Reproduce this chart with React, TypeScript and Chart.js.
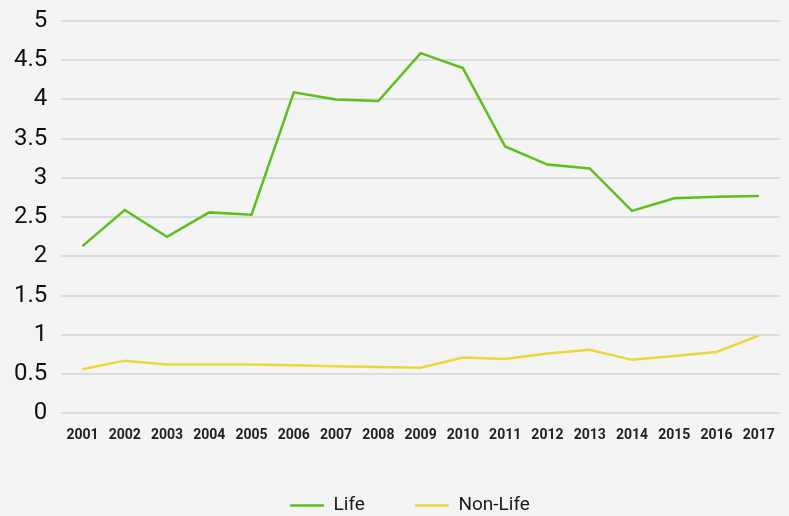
import React, { useEffect, useRef } from "react";
import { Chart, registerables } from "chart.js";

Chart.register(...registerables);

const years = ["2001","2002","2003","2004","2005","2006","2007","2008","2009","2010","2011","2012","2013","2014","2015","2016","2017"];
const lifeValues = [2.13, 2.59, 2.25, 2.56, 2.53, 4.09, 4.0, 3.98, 4.59, 4.4, 3.4, 3.17, 3.12, 2.58, 2.74, 2.76, 2.77];
const nonLifeValues = [0.56, 0.67, 0.62, 0.62, 0.62, 0.61, 0.6, 0.59, 0.58, 0.71, 0.69, 0.76, 0.81, 0.68, 0.73, 0.78, 0.99];
const seriesNames = ["Life", "Non-Life"];
const seriesColors = ["#5cbf1c", "#e9d83c"];

const shiftLegend = {
  id: "shiftLegend",
  afterLayout(chart: any) {
    if (chart.legend) chart.legend.left += 36;
  },
};

export default function App() {
  const ref = useRef<HTMLCanvasElement | null>(null);

  useEffect(() => {
    document.body.style.margin = "0";
    const canvas = ref.current;
    if (!canvas) return;
    const chart = new Chart(canvas, {
      type: "line",
      data: {
        labels: years,
        datasets: [
          {
            label: seriesNames[0],
            data: lifeValues,
            borderColor: seriesColors[0],
            backgroundColor: seriesColors[0],
            borderWidth: 2.5,
            pointRadius: 0,
            tension: 0,
            fill: false,
          },
          {
            label: seriesNames[1],
            data: nonLifeValues,
            borderColor: seriesColors[1],
            backgroundColor: seriesColors[1],
            borderWidth: 2.5,
            pointRadius: 0,
            tension: 0,
            fill: false,
          },
        ],
      },
      plugins: [shiftLegend],
      options: {
        animation: false,
        responsive: false,
        maintainAspectRatio: false,
        layout: { padding: { left: 0, right: 5, top: 21, bottom: -9 } },
        plugins: {
          tooltip: { enabled: false },
          legend: {
            position: "bottom",
            labels: {
              usePointStyle: true,
              pointStyle: "line",
              pointStyleWidth: 34,
              boxHeight: 19,
              padding: 50,
              color: "#1a1a1a",
              font: { family: "Roboto", size: 19 },
            },
          },
        },
        scales: {
          x: {
            offset: true,
            grid: { display: false, drawTicks: false },
            border: { display: false },
            afterFit: (scale: any) => {
              scale.height -= 12;
            },
            ticks: {
              padding: 14,
              color: "#222",
              maxRotation: 0,
              autoSkip: false,
              font: { family: "Roboto", size: 14, weight: "bold" },
            },
          },
          y: {
            min: 0,
            max: 5,
            grid: { color: "#dcdcdc", lineWidth: 2, drawTicks: false },
            border: { display: false },
            afterFit: (scale: any) => {
              scale.paddingTop = 0;
            },
            ticks: {
              stepSize: 0.5,
              padding: 14,
              color: "#111",
              font: { family: "Roboto", size: 24 },
              callback: (v: any) => String(Number(v)),
            },
          },
        },
      },
    });
    return () => chart.destroy();
  }, []);

  return (
    <div style={{ position: "absolute", left: 0, top: 0, width: 789, height: 516, background: "#f4f4f4" }}>
      <canvas ref={ref} width={789} height={516} style={{ display: "block" }} />
    </div>
  );
}
